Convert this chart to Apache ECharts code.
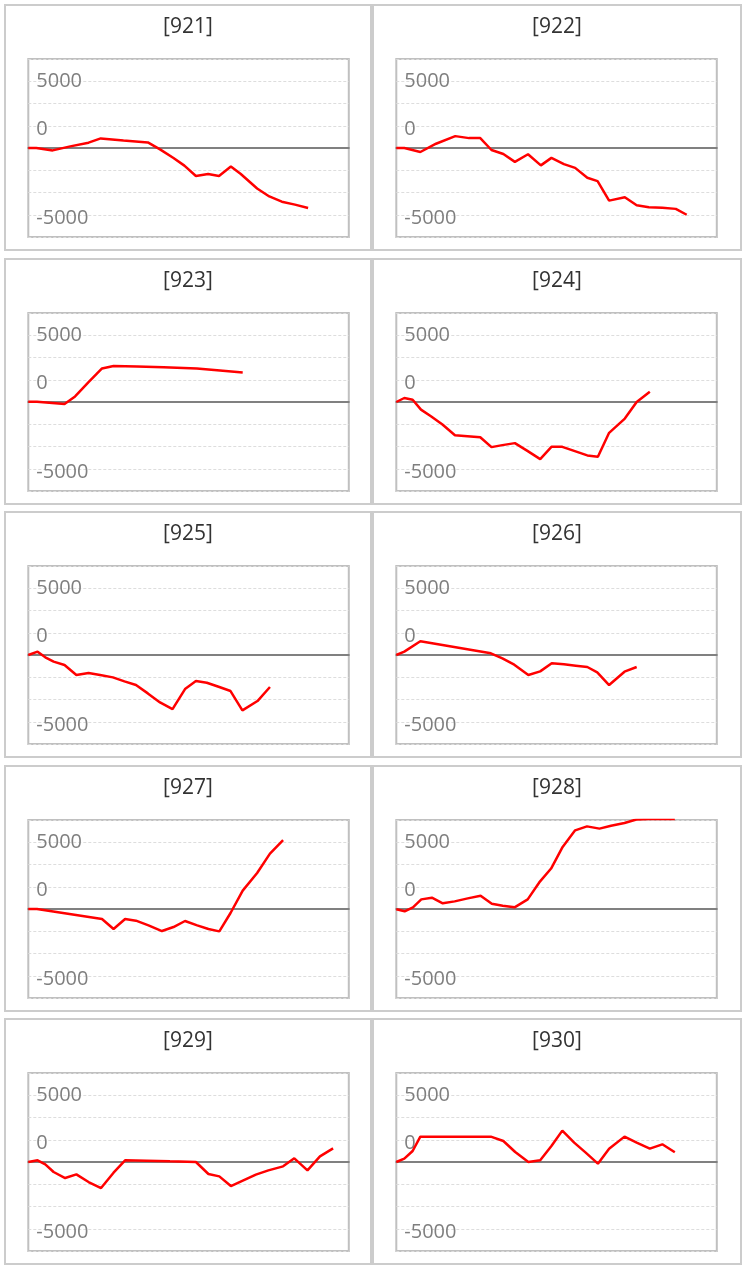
<!DOCTYPE html>
<html>
<head>
<meta charset="utf-8">
<script src="https://cdn.jsdelivr.net/npm/echarts@6/dist/echarts.min.js"></script>
<style>
  html, body { margin: 0; padding: 0; background: #fff; }
  body { width: 745px; height: 1270px; position: relative; overflow: hidden; }
  .panel { position: absolute; box-sizing: border-box; border: 2px solid #cccccc; }
  .chart { position: absolute; }
</style>
</head>
<body>
<div id="root"></div>
<script>
// Panel titles
const titles = ['[921]', '[922]', '[923]', '[924]', '[925]', '[926]', '[927]', '[928]', '[929]', '[930]'];

// Y-axis labels shown
const yTickLabels = ['5000', '0', '-5000'];

// Series values (x position along the period, y value)
const x921 = [0, 2.5, 7.6, 13.1, 18.8, 22.6, 29.7, 37.3, 41.1, 45.3, 48.7, 52.3, 56.1, 59.5, 63.2, 66.3, 71.4, 75.2, 79.1, 83.2, 87.3];
const y921 = [0, 0, -180, 120, 400, 720, 570, 420, -100, -750, -1320, -2100, -1950, -2100, -1380, -1950, -3030, -3630, -4020, -4240, -4490];

const x922 = [0, 2.5, 7.5, 12.4, 18.4, 22.7, 26.2, 29.7, 33.4, 37.0, 41.1, 45.1, 48.4, 52.3, 55.8, 59.6, 62.8, 66.4, 71.3, 75.0, 78.8, 83.0, 87.2, 90.6];
const y922 = [0, 0, -300, 320, 890, 740, 740, -150, -450, -1040, -470, -1300, -740, -1210, -1490, -2230, -2480, -3940, -3690, -4290, -4430, -4480, -4560, -5000];

const x923 = [0, 2.7, 11.3, 14.6, 18.8, 23.0, 26.6, 33.9, 42.2, 52.6, 59.8, 66.9];
const y923 = [20, 20, -150, 420, 1490, 2510, 2690, 2660, 2610, 2510, 2360, 2210];

const x924 = [0, 2.5, 5.1, 7.7, 10.8, 14.4, 18.3, 22.2, 26.2, 29.7, 33.1, 37.0, 40.9, 44.9, 48.4, 51.8, 55.7, 59.6, 62.9, 66.4, 71.3, 75.0, 79.1];
const y924 = [0, 300, 170, -570, -1070, -1690, -2490, -2560, -2640, -3380, -3230, -3080, -3660, -4280, -3360, -3360, -3680, -4000, -4100, -2310, -1240, 0, 770];

const x925 = [0, 2.9, 5.3, 7.9, 11.3, 15.0, 18.8, 22.4, 26.4, 30.0, 33.6, 37.3, 41.1, 45.0, 48.9, 52.3, 55.7, 59.6, 63.1, 66.8, 71.5, 75.4];
const y925 = [0, 250, -175, -500, -750, -1500, -1350, -1500, -1675, -1975, -2250, -2875, -3550, -4050, -2550, -1950, -2075, -2400, -2700, -4150, -3450, -2400];

const x926 = [0, 2.5, 7.5, 14.4, 21.7, 29.5, 33.1, 36.8, 41.2, 44.9, 48.5, 52.3, 56.0, 59.6, 62.7, 66.4, 71.2, 75.0];
const y926 = [0, 250, 1025, 750, 450, 125, -250, -725, -1500, -1225, -625, -700, -800, -900, -1300, -2250, -1250, -900];

const x927 = [0, 2.7, 23.0, 26.6, 30.2, 33.6, 37.5, 41.7, 45.3, 48.9, 52.7, 56.2, 59.6, 63.1, 66.9, 71.4, 75.4, 79.5];
const y927 = [0, 0, -750, -1500, -750, -875, -1225, -1650, -1350, -900, -1225, -1500, -1675, -300, 1375, 2700, 4150, 5150];

const x928 = [0, 2.6, 5.2, 7.8, 11.1, 14.5, 18.2, 22.3, 26.3, 29.8, 33.2, 36.9, 41.0, 44.6, 48.3, 51.9, 55.8, 59.5, 63.4, 67.0, 71.2, 74.9, 78.8, 82.5, 86.9];
const y928 = [-25, -175, 125, 720, 845, 425, 570, 795, 995, 400, 250, 125, 720, 1990, 3030, 4650, 5890, 6190, 6020, 6240, 6440, 6700, 6735, 6735, 6735];

const x929 = [0, 2.9, 5.3, 7.9, 11.5, 15.0, 18.8, 22.7, 26.6, 30.2, 36.9, 44.2, 52.3, 56.2, 59.6, 63.2, 67.1, 71.0, 74.9, 79.5, 83.0, 87.1, 91.0, 95.1];
const y929 = [0, 125, -175, -750, -1200, -925, -1500, -1950, -800, 125, 100, 50, 0, -900, -1075, -1800, -1375, -950, -625, -325, 275, -625, 425, 1025];

const x930 = [0, 2.5, 5.1, 7.5, 14.4, 21.7, 29.5, 33.4, 37.1, 41.2, 44.9, 48.4, 51.8, 55.5, 59.1, 62.9, 66.4, 71.2, 75.0, 79.1, 83.0, 86.9];
const y930 = [0, 250, 825, 1900, 1900, 1900, 1900, 1575, 750, 0, 125, 1200, 2350, 1450, 700, -125, 1000, 1900, 1450, 1000, 1325, 725];

const xs = [x921, x922, x923, x924, x925, x926, x927, x928, x929, x930];
const ys = [y921, y922, y923, y924, y925, y926, y927, y928, y929, y930];

// Layout
const FONT = '"Open Sans", "Noto Sans", sans-serif';
const colX = [4, 372];
const colW = [368, 370];
const rowTop0 = 4, rowPitch = 253.6, panelH = 247;
const STEP = 5000 / 3;

const root = document.getElementById('root');
titles.forEach((t, i) => {
  const c = i % 2, r = Math.floor(i / 2);
  const left = colX[c], top = rowTop0 + r * rowPitch, w = colW[c];
  const p = document.createElement('div');
  p.className = 'panel';
  p.style.left = left + 'px'; p.style.top = top + 'px';
  p.style.width = w + 'px'; p.style.height = panelH + 'px';
  root.appendChild(p);
  const d = document.createElement('div');
  d.className = 'chart';
  d.style.left = left + 'px'; d.style.top = top + 'px';
  d.style.width = w + 'px'; d.style.height = panelH + 'px';
  root.appendChild(d);

  const chart = echarts.init(d, null, { renderer: 'canvas' });
  const data = xs[i].map((x, k) => [x, ys[i][k]]);
  const lab = { fontSize: 20, color: '#7f7f7f', fontFamily: FONT };
  chart.setOption({
    animation: false,
    title: {
      text: t, left: 'center', top: 8,
      textStyle: { fontSize: 21, fontWeight: 'normal', color: '#333333', fontFamily: FONT }
    },
    grid: {
      left: 24.3, top: 55, width: 320.5, height: 178,
      show: true, borderColor: '#c0c0c0', borderWidth: 2, backgroundColor: 'transparent'
    },
    xAxis: {
      type: 'value', min: 0, max: 100,
      axisLine: { show: true, onZero: true, lineStyle: { color: '#808080', width: 2 } },
      axisTick: { show: false }, axisLabel: { show: false }, splitLine: { show: false }
    },
    yAxis: {
      type: 'value', min: -4 * STEP, max: 4 * STEP, interval: STEP,
      axisLine: { show: false }, axisTick: { show: false },
      splitLine: { show: true, lineStyle: { color: '#dddddd', width: 1, type: [3, 2] } },
      axisLabel: {
        inside: true, margin: 8, align: 'left',
        formatter: v => {
          const rv = Math.round(v);
          if (rv === 5000) return '{a|' + yTickLabels[0] + '}';
          if (rv === 0) return '{b|' + yTickLabels[1] + '}';
          if (rv === -5000) return '{c|' + yTickLabels[2] + '}';
          return '';
        },
        rich: {
          a: Object.assign({}, lab),
          b: Object.assign({ padding: [0, 0, 37, 0] }, lab),
          c: Object.assign({ padding: [7, 0, 0, 0] }, lab)
        }
      }
    },
    series: [{
      type: 'line', data: data, showSymbol: false, clip: true,
      lineStyle: { color: '#ff0000', width: 2.5 }, itemStyle: { color: '#ff0000' }
    }]
  });
});
</script>
</body>
</html>
